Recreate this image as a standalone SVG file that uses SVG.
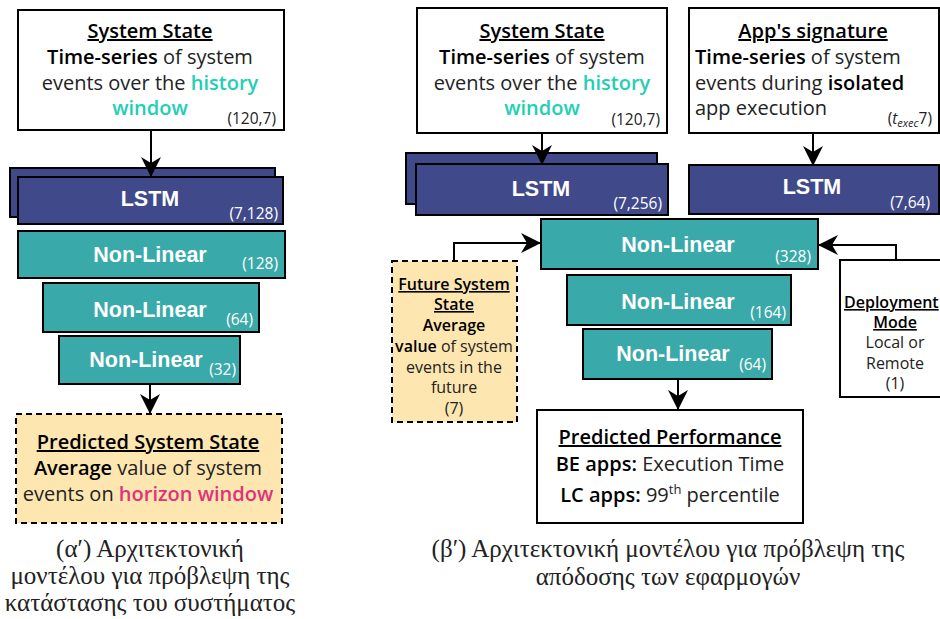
<svg xmlns="http://www.w3.org/2000/svg" width="940" height="619" viewBox="0 0 940 619">
  <defs>
    <marker id="arrow" viewBox="0 0 20 20" refX="19" refY="10" markerWidth="20" markerHeight="20" markerUnits="userSpaceOnUse" orient="auto">
      <path d="M0,0 L20,10 L0,20 L6,10 Z" fill="#000"/>
    </marker>
    <style>
      .box { fill: #fff; stroke: #000; stroke-width: 2; }
      .lstm { fill: #404a8b; stroke: #000; stroke-width: 2; }
      .nl { fill: #3aa9a9; stroke: #000; stroke-width: 2; }
      .dash { fill: #fde6b0; stroke: #000; stroke-width: 2; stroke-dasharray: 6 4; }
      .txt { font-family: "Open Sans", "Noto Sans", sans-serif; font-size: 20px; fill: #222; }
      .small { font-family: "Open Sans", "Noto Sans", sans-serif; font-size: 15.5px; fill: #222; }
      .note { font-family: "Open Sans", "Noto Sans", sans-serif; font-size: 16px; fill: #222; }
      .b { font-weight: 600; fill: #000; }
      .u { text-decoration: underline; font-weight: 600; fill: #000; }
      .layer { font-family: "Liberation Sans", Arial, sans-serif; font-weight: bold; font-size: 21.5px; fill: #fff; }
      .dim { font-family: "Open Sans", "Noto Sans", sans-serif; font-size: 15.5px; fill: #fff; }
      .hist { fill: #22cfb4; font-weight: 600; }
      .hor { fill: #e0317a; font-weight: 600; }
      .cap { font-family: "Liberation Serif", "DejaVu Serif", serif; font-size: 25px; fill: #222; }
      .edge { fill: none; stroke: #000; stroke-width: 2; }
    </style>
  </defs>

  <!-- ===== Left model: system state predictor ===== -->
  <g id="a-input">
    <rect class="box" x="18" y="10" width="266" height="120"/>
    <text class="txt" text-anchor="middle" x="150" y="38"><tspan class="u">System State</tspan></text>
    <text class="txt" text-anchor="middle" x="150" y="64"><tspan class="b">Time-series</tspan> of system</text>
    <text class="txt" text-anchor="middle" x="150" y="90">events over the <tspan class="hist">history</tspan></text>
    <text class="txt" text-anchor="middle" x="150" y="115"><tspan class="hist">window</tspan></text>
    <text class="small" text-anchor="end" x="276" y="124">(120,7)</text>
  </g>

  <g id="a-lstm">
    <rect class="lstm" x="10" y="168" width="265" height="49"/>
    <rect class="lstm" x="18" y="177" width="265" height="47"/>
    <text class="layer" text-anchor="middle" x="150" y="206">LSTM</text>
    <text class="dim" text-anchor="end" x="278" y="219">(7,128)</text>
  </g>

  <g id="a-nl128">
    <rect class="nl" x="18" y="231" width="267" height="47"/>
    <text class="layer" text-anchor="middle" x="150" y="262">Non-Linear</text>
    <text class="dim" text-anchor="end" x="278" y="269">(128)</text>
  </g>

  <g id="a-nl64">
    <rect class="nl" x="43" y="283" width="216" height="49"/>
    <text class="layer" text-anchor="middle" x="150" y="317">Non-Linear</text>
    <text class="dim" text-anchor="end" x="253" y="325">(64)</text>
  </g>

  <g id="a-nl32">
    <rect class="nl" x="59" y="336" width="181" height="48"/>
    <text class="layer" text-anchor="middle" x="146" y="367">Non-Linear</text>
    <text class="dim" text-anchor="end" x="236" y="375">(32)</text>
  </g>

  <g id="a-output">
    <rect class="dash" x="16" y="414" width="266" height="109"/>
    <text class="txt" text-anchor="middle" x="148" y="449"><tspan class="u">Predicted System State</tspan></text>
    <text class="txt" text-anchor="middle" x="148" y="475"><tspan class="b">Average</tspan> value of system</text>
    <text class="txt" text-anchor="middle" x="148" y="501">events on <tspan class="hor">horizon window</tspan></text>
  </g>

  <!-- ===== Right model: performance predictor ===== -->
  <g id="b-sys">
    <rect class="box" x="417" y="8" width="250" height="125"/>
    <text class="txt" text-anchor="middle" x="542" y="38"><tspan class="u">System State</tspan></text>
    <text class="txt" text-anchor="middle" x="542" y="64"><tspan class="b">Time-series</tspan> of system</text>
    <text class="txt" text-anchor="middle" x="542" y="90">events over the <tspan class="hist">history</tspan></text>
    <text class="txt" text-anchor="middle" x="542" y="115"><tspan class="hist">window</tspan></text>
    <text class="small" text-anchor="end" x="660" y="125">(120,7)</text>
  </g>

  <g id="b-app">
    <rect class="box" x="689" y="8" width="250" height="125"/>
    <text class="txt" text-anchor="middle" x="813" y="38"><tspan class="u">App's signature</tspan></text>
    <text class="txt" x="695" y="64"><tspan class="b">Time-series</tspan> of system</text>
    <text class="txt" x="695" y="90">events during <tspan class="b">isolated</tspan></text>
    <text class="txt" x="695" y="115">app execution</text>
    <text class="small" text-anchor="end" x="932" y="124">(<tspan font-style="italic">t</tspan><tspan font-style="italic" font-size="11" dy="3">exec</tspan><tspan dy="-3">7)</tspan></text>
  </g>

  <g id="b-lstm-sys">
    <rect class="lstm" x="406" y="153" width="251" height="51"/>
    <rect class="lstm" x="416" y="164" width="252" height="51"/>
    <text class="layer" text-anchor="middle" x="541" y="196">LSTM</text>
    <text class="dim" text-anchor="end" x="662" y="209">(7,256)</text>
  </g>

  <g id="b-lstm-app">
    <rect class="lstm" x="689" y="165" width="250" height="49"/>
    <text class="layer" text-anchor="middle" x="812" y="194">LSTM</text>
    <text class="dim" text-anchor="end" x="930" y="208">(7,64)</text>
  </g>

  <g id="b-nl328">
    <rect class="nl" x="541" y="219" width="277" height="50"/>
    <text class="layer" text-anchor="middle" x="678" y="252">Non-Linear</text>
    <text class="dim" text-anchor="end" x="811" y="262">(328)</text>
  </g>

  <g id="b-nl164">
    <rect class="nl" x="567" y="275" width="224" height="50"/>
    <text class="layer" text-anchor="middle" x="678" y="309">Non-Linear</text>
    <text class="dim" text-anchor="end" x="786" y="318">(164)</text>
  </g>

  <g id="b-nl64">
    <rect class="nl" x="583" y="329" width="189" height="50"/>
    <text class="layer" text-anchor="middle" x="673" y="361">Non-Linear</text>
    <text class="dim" text-anchor="end" x="766" y="370">(64)</text>
  </g>

  <g id="b-future">
    <rect class="dash" x="392" y="261" width="125" height="161"/>
    <text class="note" text-anchor="middle" x="454" y="290"><tspan class="u">Future System</tspan></text>
    <text class="note" text-anchor="middle" x="454" y="310"><tspan class="u">State</tspan></text>
    <text class="note" text-anchor="middle" x="454" y="331"><tspan class="b">Average</tspan></text>
    <text class="note" text-anchor="middle" x="454" y="352"><tspan class="b">value</tspan> of system</text>
    <text class="note" text-anchor="middle" x="454" y="373">events in the</text>
    <text class="note" text-anchor="middle" x="454" y="393">future</text>
    <text class="note" text-anchor="middle" x="454" y="414">(7)</text>
  </g>

  <g id="b-deploy">
    <rect class="box" x="840" y="260" width="110" height="137"/>
    <text class="note" x="844" y="308"><tspan class="u">Deployment</tspan></text>
    <text class="note" text-anchor="middle" x="895" y="328"><tspan class="u">Mode</tspan></text>
    <text class="note" text-anchor="middle" x="895" y="348">Local or</text>
    <text class="note" text-anchor="middle" x="895" y="369">Remote</text>
    <text class="note" text-anchor="middle" x="895" y="389">(1)</text>
  </g>

  <g id="b-output">
    <rect class="box" x="537" y="410" width="266" height="113"/>
    <text class="txt" text-anchor="middle" x="670" y="444"><tspan class="u">Predicted Performance</tspan></text>
    <text class="txt" text-anchor="middle" x="670" y="471"><tspan class="b">BE apps:</tspan> Execution Time</text>
    <text class="txt" text-anchor="middle" x="670" y="502"><tspan class="b">LC apps:</tspan> 99<tspan font-size="13" dy="-8">th</tspan><tspan dy="8"> percentile</tspan></text>
  </g>

  <!-- ===== Connectors ===== -->
  <g id="connectors">
    <path class="edge" marker-end="url(#arrow)" d="M151,130 V176"/>
    <path class="edge" marker-end="url(#arrow)" d="M150,384 V413"/>
    <path class="edge" marker-end="url(#arrow)" d="M542,133 V164"/>
    <path class="edge" marker-end="url(#arrow)" d="M813,133 V165"/>
    <path class="edge" marker-end="url(#arrow)" d="M678,379 V409"/>
    <path class="edge" marker-end="url(#arrow)" d="M454,261 V243 H540"/>
    <path class="edge" marker-end="url(#arrow)" d="M896,260 V245 H819"/>
  </g>

  <!-- ===== Captions ===== -->
  <g id="captions">
    <text class="cap" text-anchor="middle" x="150" y="557">(α′) Αρχιτεκτονική</text>
    <text class="cap" text-anchor="middle" x="150" y="584">μοντέλου για πρόβλεψη της</text>
    <text class="cap" text-anchor="middle" x="150" y="611">κατάστασης του συστήματος</text>
    <text class="cap" text-anchor="middle" x="668" y="557">(β′) Αρχιτεκτονική μοντέλου για πρόβλεψη της</text>
    <text class="cap" text-anchor="middle" x="668" y="585">απόδοσης των εφαρμογών</text>
  </g>
</svg>
